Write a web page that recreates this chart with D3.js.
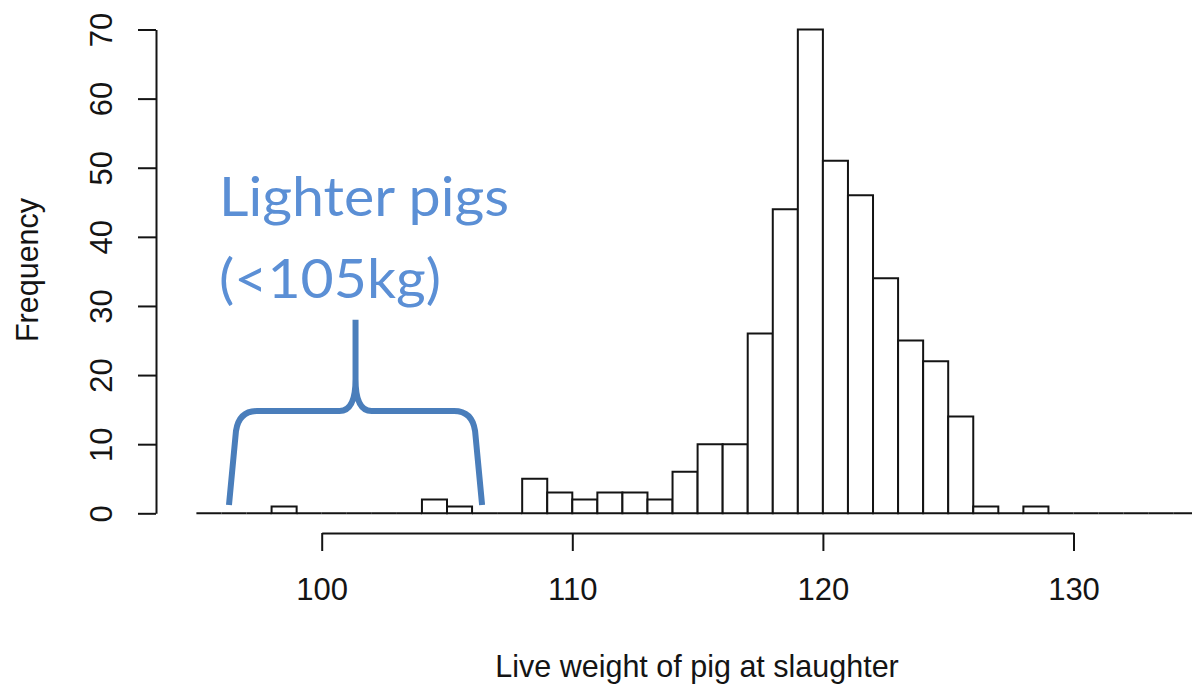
<!DOCTYPE html>
<html>
<head>
<meta charset="utf-8">
<script src="https://cdn.jsdelivr.net/npm/d3@7"></script>
<style>
  html, body { margin: 0; padding: 0; background: #fff; }
  svg { display: block; }
</style>
</head>
<body>
<svg id="chart" width="1192" height="688"></svg>
<script>
// ---- data ----
const binLower = [95,96,97,98,99,100,101,102,103,104,105,106,107,108,109,110,111,112,113,114,
                  115,116,117,118,119,120,121,122,123,124,125,126,127,128,129,130,131,132,133,134];
const binUpper = [96,97,98,99,100,101,102,103,104,105,106,107,108,109,110,111,112,113,114,115,
                  116,117,118,119,120,121,122,123,124,125,126,127,128,129,130,131,132,133,134,135];
const counts   = [0,0,0,1,0,0,0,0,0,2,1,0,0,5,3,2,3,3,2,6,
                  10,10,26,44,70,51,46,34,25,22,14,1,0,1,0,0,0,0,0,0];
const xTicks = [100, 110, 120, 130];
const yTicks = [0, 10, 20, 30, 40, 50, 60, 70];
const xTitle = "Live weight of pig at slaughter";
const yTitle = "Frequency";
const noteLines = ["Lighter pigs", "(<105kg)"];
// brace annotation in data units
const braceX = [96.3, 101.35, 106.4];   // left, middle, right
const braceY = [1.2, 14.8, 28.0];       // foot, bar, tip

// ---- scales ----
const x = d3.scaleLinear().domain([100, 130]).range([321.7, 1073.5]);
const y = d3.scaleLinear().domain([0, 70]).range([513.3, 29.5]);

const svg = d3.select("#chart");
const ink = "#141414";
const axisFont = "'Liberation Sans', Arial, sans-serif";

// ---- bars ----
const bins = counts.map((c, i) => ({ x0: binLower[i], x1: binUpper[i], n: c }));
svg.append("g")
  .selectAll("path")
  .data(bins)
  .join("path")
  .attr("d", d => `M${x(d.x0)},${y(0)}V${y(d.n)}H${x(d.x1)}V${y(0)}Z`)
  .attr("fill", "#fff")
  .attr("stroke", ink)
  .attr("stroke-width", 2);

// ---- x axis ----
const gx = svg.append("g")
  .attr("transform", "translate(0,533)")
  .call(d3.axisBottom(x).tickValues(xTicks).tickSize(18).tickSizeOuter(0).tickPadding(0).tickFormat(d3.format("d")));
gx.select(".domain").attr("stroke", ink).attr("stroke-width", 2);
gx.selectAll(".tick line").attr("stroke", ink).attr("stroke-width", 2);
gx.selectAll(".tick text")
  .attr("y", 67).attr("dy", null)
  .attr("fill", ink)
  .style("font-family", axisFont).style("font-size", "31px");

// ---- y axis ----
const gy = svg.append("g")
  .attr("transform", "translate(156,0)")
  .call(d3.axisLeft(y).tickValues(yTicks).tickSize(18).tickSizeOuter(0).tickFormat(d3.format("d")));
gy.select(".domain").attr("stroke", ink).attr("stroke-width", 2);
gy.selectAll(".tick line").attr("stroke", ink).attr("stroke-width", 2);
gy.selectAll(".tick text")
  .attr("x", null).attr("dy", null)
  .attr("transform", "translate(-44,0) rotate(-90)")
  .attr("text-anchor", "middle")
  .attr("fill", ink)
  .style("font-family", axisFont).style("font-size", "31px");

// ---- titles ----
svg.append("text")
  .attr("x", 697).attr("y", 677)
  .attr("text-anchor", "middle")
  .attr("fill", ink)
  .style("font-family", axisFont).style("font-size", "30.5px")
  .text(xTitle);

svg.append("text")
  .attr("transform", "translate(38,270) rotate(-90)")
  .attr("text-anchor", "middle")
  .attr("fill", ink)
  .style("font-family", axisFont).style("font-size", "30.5px")
  .text(yTitle);

// ---- annotation ----
const noteFont = "Lato, 'Open Sans', sans-serif";
const note = svg.append("g");
const noteBase = [216, 298];
const noteWidth = [290, 222];
noteLines.forEach((t, i) => {
  note.append("text")
    .attr("x", 219).attr("y", noteBase[i])
    .attr("fill", "#5b8fd5")
    .attr("textLength", noteWidth[i])
    .attr("lengthAdjust", "spacingAndGlyphs")
    .style("font-family", noteFont).style("font-size", "54px")
    .text(t);
});

const bl = x(braceX[0]), bm = x(braceX[1]), br = x(braceX[2]);
const bf = y(braceY[0]), bb = y(braceY[1]), bt = y(braceY[2]);
const p = d3.path();
p.moveTo(bl, bf);
p.lineTo(bl + 7, bb + 20);
p.quadraticCurveTo(bl + 10, bb, bl + 28, bb);
p.lineTo(bm - 16, bb);
p.quadraticCurveTo(bm, bb, bm, bb - 32);
p.lineTo(bm, bt);
p.moveTo(bm, bb - 32);
p.quadraticCurveTo(bm, bb, bm + 16, bb);
p.lineTo(br - 28, bb);
p.quadraticCurveTo(br - 10, bb, br - 7, bb + 20);
p.lineTo(br, bf);
svg.append("path")
  .attr("d", p.toString())
  .attr("fill", "none")
  .attr("stroke", "#4a7ebb")
  .attr("stroke-width", 6)
  .attr("stroke-linecap", "butt")
  .attr("stroke-linejoin", "round");
</script>
</body>
</html>
